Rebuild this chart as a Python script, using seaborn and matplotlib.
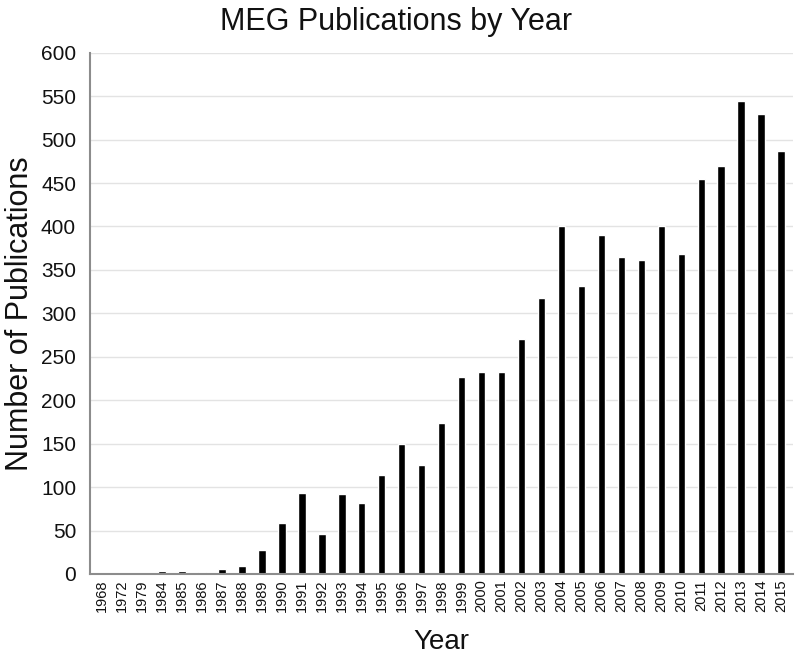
"""MEG publications per year, drawn as a plain black bar chart."""
import matplotlib
matplotlib.use("Agg")
import matplotlib.pyplot as plt
import pandas as pd
import seaborn as sns

sns.set_theme(style="white")
plt.rcParams["font.family"] = ["Liberation Sans", "DejaVu Sans"]

# --- data -----------------------------------------------------------------
years = ["1968", "1972", "1979", "1984", "1985", "1986", "1987", "1988",
         "1989", "1990", "1991", "1992", "1993", "1994", "1995", "1996",
         "1997", "1998", "1999", "2000", "2001", "2002", "2003", "2004",
         "2005", "2006", "2007", "2008", "2009", "2010", "2011", "2012",
         "2013", "2014", "2015"]
counts = [0, 0, 0, 3, 3, 2, 6, 9,
          28, 59, 93, 46, 92, 82, 114, 150,
          125, 174, 227, 232, 232, 271, 318, 400,
          331, 390, 365, 361, 400, 368, 455, 470,
          544, 530, 487]
y_ticks = list(range(0, 601, 50))

df = pd.DataFrame({"Year": years, "Publications": counts})

fig = plt.figure(figsize=(8, 6.59), dpi=100)
ax = fig.add_axes([0.1125, 0.129, 0.879, 0.791])

sns.barplot(data=df, x="Year", y="Publications", color="black",
            width=0.38, saturation=1, ax=ax)

ax.set_ylim(0, 600)
ax.set_yticks(y_ticks)
ax.set_xlim(-0.6, len(years) - 0.4)
ax.yaxis.grid(True, color="#e3e3e3", linewidth=1)
ax.set_axisbelow(True)

for side in ("top", "right"):
    ax.spines[side].set_visible(False)
for side in ("left", "bottom"):
    ax.spines[side].set_color("#8c8c8c")
    ax.spines[side].set_linewidth(1.5)

ax.tick_params(axis="y", labelsize=15, length=0, pad=10, labelcolor="#111111")
ax.tick_params(axis="x", labelsize=10.5, length=0, pad=4, rotation=90,
               labelcolor="#111111")

ax.set_xlabel("Year", fontsize=20, labelpad=12, color="#111111")
ax.set_ylabel("Number of Publications", fontsize=22, labelpad=4,
              color="#111111")
fig.suptitle("MEG Publications by Year", fontsize=22, x=0.495, y=0.99,
             va="top", color="#111111")

fig.savefig("out.png", dpi=100)
